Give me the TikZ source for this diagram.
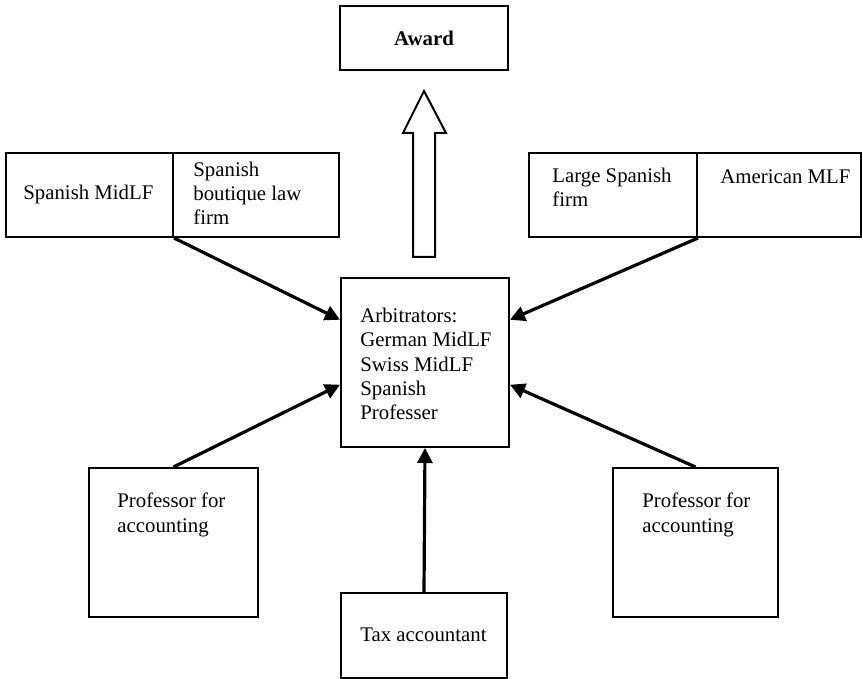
\documentclass[tikz,border=0pt]{standalone}
\usepackage{fontspec}
\setmainfont{Liberation Serif}
\usetikzlibrary{calc,arrows.meta}

\tikzset{
  box/.style={draw, line width=1pt, inner sep=0pt, rectangle},
  % labels are placed by the baseline of their last line
  txt/.style={inner sep=0pt, anchor=base west, align=left,
    font=\fontsize{10.4}{12.2}\selectfont},
  feed/.style={line width=1.6pt, -{Triangle[length=7.5pt,width=7.5pt]}},
  hollow/.style={line width=1pt, fill=white, line join=miter},
}

\begin{document}
\begin{tikzpicture}[x=0.5pt, y=-0.5pt]
  \useasboundingbox (0,0) rectangle (863,679);

  % boxes
  \node[box, minimum width=84pt, minimum height=32pt] (award) at (424,38)
    {\fontsize{10.4}{12.2}\selectfont\bfseries Award};
  \node[box, minimum width=83.5pt, minimum height=42pt] (spmid) at (89.5,195) {};
  \node[box, minimum width=83pt, minimum height=42pt] (bout) at (256,195) {};
  \node[box, minimum width=84pt, minimum height=42pt] (lsf) at (613,195) {};
  \node[box, minimum width=82pt, minimum height=42pt] (amlf) at (779,195) {};
  \node[box, minimum width=84pt, minimum height=84.5pt] (arb) at (425,362.5) {};
  \node[box, minimum width=84.5pt, minimum height=74.5pt] (profl) at (173.5,542.5) {};
  \node[box, minimum width=82.5pt, minimum height=74.5pt] (profr) at (695.5,542.5) {};
  \node[box, minimum width=83pt, minimum height=42.5pt] (tax) at (424,635.5) {};

  % labels
  \node[txt] (spmidt) at (23,200) {Spanish MidLF};
  \node[txt] (boutt) at (193,225) {Spanish\\boutique law\\firm};
  \node[txt] (lsft) at (552,207) {Large Spanish\\firm};
  \node[txt] (amlft) at (720,184) {American MLF};
  \node[txt] (arbt) at (360,420) {Arbitrators:\\German MidLF\\Swiss MidLF\\Spanish\\Professer};
  \node[txt] (proflt) at (117,532) {Professor for\\accounting};
  \node[txt] (profrt) at (642,532) {Professor for\\accounting};
  \node[txt] (taxt) at (360,641) {Tax accountant};

  % inputs to the arbitrators
  \coordinate (arbwa) at ($(arb.north west)!0.25!(arb.south west)$);
  \coordinate (arbwb) at ($(arb.north west)!0.63!(arb.south west)$);
  \coordinate (arbea) at ($(arb.north east)!0.25!(arb.south east)$);
  \coordinate (arbeb) at ($(arb.north east)!0.63!(arb.south east)$);
  \draw[feed] (spmid.south east) -- (arbwa);
  \draw[feed] (lsf.south east) -- (arbea);
  \draw[feed] (profl.north) -- (arbwb);
  \draw[feed] (profr.north) -- (arbeb);
  \draw[feed] (tax.north) -- (arb.south);

  % hollow arrow towards the award
  \coordinate (hb) at ($(arb.north)+(-1,-20)$);
  \coordinate (ht) at ($(award.south)+(0,20)$);
  \draw[hollow] ($(hb)+(-11,0)$) -- ($(ht)+(-11,42)$) -- ($(ht)+(-21,42)$)
    -- (ht) -- ($(ht)+(22,42)$) -- ($(ht)+(11,42)$) -- ($(hb)+(11,0)$) -- cycle;
\end{tikzpicture}
\end{document}
